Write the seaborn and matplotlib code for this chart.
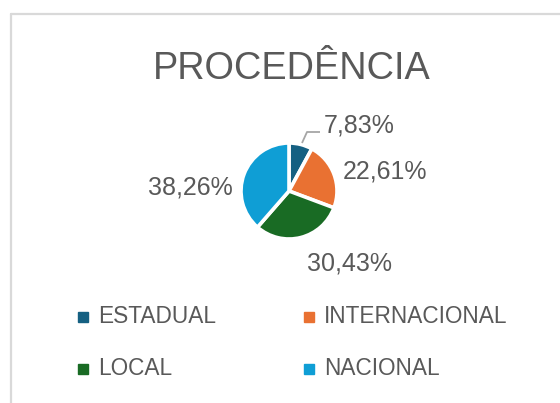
import matplotlib
matplotlib.use("Agg")
import matplotlib.pyplot as plt
from matplotlib import font_manager
from matplotlib.lines import Line2D
import seaborn as sns

categories = ["ESTADUAL", "INTERNACIONAL", "LOCAL", "NACIONAL"]
shares = [7.83, 22.61, 30.43, 38.26]
pct_labels = ["7,83%", "22,61%", "30,43%", "38,26%"]
colors = ["#156082", "#E97132", "#196B24", "#0F9ED5"]

sns.set_style("white")
names = {f.name for f in font_manager.fontManager.ttflist}
narrow = "Liberation Sans Narrow" if "Liberation Sans Narrow" in names else "Liberation Sans"
plt.rcParams["font.family"] = ["Liberation Sans", "DejaVu Sans"]

W, H = 560, 403
fig = plt.figure(figsize=(W / 100, H / 100), dpi=100)
fig.patch.set_facecolor("white")

# axes spanning the whole figure, one data unit = one pixel
ax = fig.add_axes([0, 0, 1, 1])

cx, cy, R = 289, H - 191, 48
ax.pie(shares, colors=colors, startangle=90, counterclock=False,
       center=(cx, cy), radius=R, frame=True,
       wedgeprops=dict(edgecolor="white", linewidth=2.6))
ax.set_xlim(0, W)
ax.set_ylim(0, H)
ax.set_aspect("equal")
ax.axis("off")

text_col = "#595959"
# label anchor points (px, top-left origin): center x, baseline y
label_pos = [(359, 133), (385, 178), (350, 270), (190, 195)]
for lab, (x, y) in zip(pct_labels, label_pos):
    ax.text(x, H - y, lab, ha="center", va="baseline", fontsize=18,
            color=text_col)

# leader line for the small slice
ax.plot([302, 307, 320], [H - 143, H - 132, H - 132], color="#A6A6A6",
        lw=1.3, solid_capstyle="butt")

fig.text(292 / W, 1 - 79 / H, "PROCEDÊNCIA", ha="center", va="baseline",
         fontsize=27.3, color=text_col)

# legend (2 x 2)
leg_pos = [(78, 323), (304, 323), (78, 375), (304, 375)]
for name, col, (x, y) in zip(categories, colors, leg_pos):
    ax.add_patch(plt.Rectangle((x, H - y + 1), 10, 10, color=col))
    ax.text(x + 20, H - y, name, ha="left", va="baseline", fontsize=16.3,
            color=text_col, family=[narrow, "DejaVu Sans"])

# chart frame (only left and top edges are visible)
fig.add_artist(Line2D([11 / W, 11 / W], [0, 1 - 14 / H], color="#D9D9D9",
                      lw=1.6, transform=fig.transFigure))
fig.add_artist(Line2D([11 / W, 1], [1 - 14 / H, 1 - 14 / H], color="#D9D9D9",
                      lw=1.6, transform=fig.transFigure))

fig.savefig("out.png", dpi=100, facecolor="white")
